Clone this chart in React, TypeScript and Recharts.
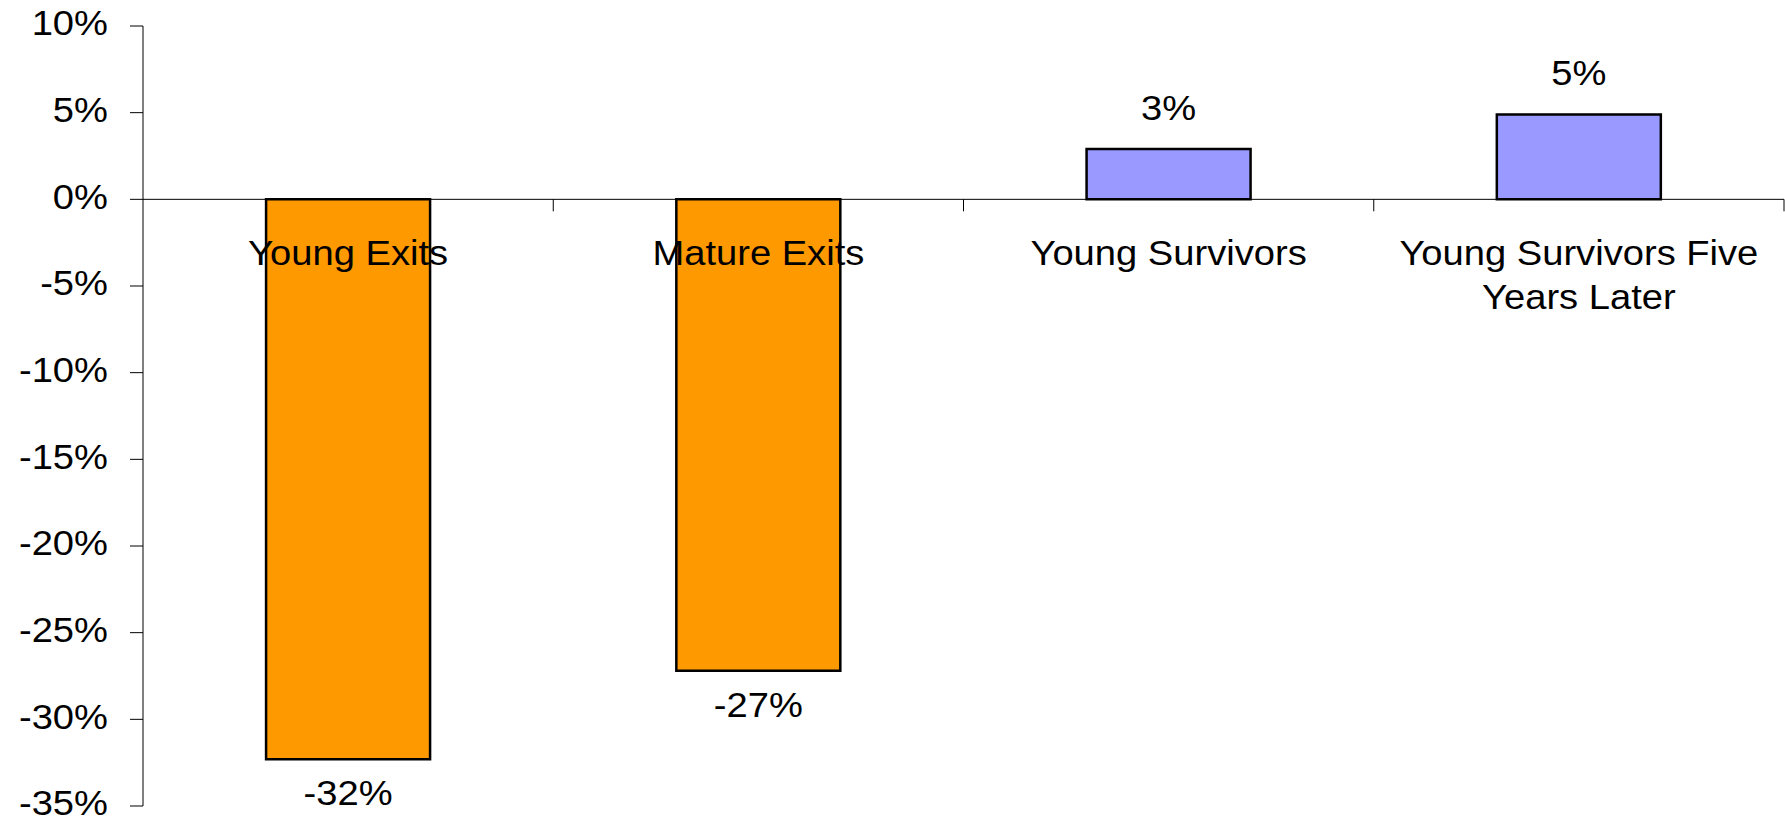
import React from 'react';
import { BarChart, Bar, XAxis, YAxis, ReferenceLine, LabelList, Cell } from 'recharts';

const categories = ['Young Exits', 'Mature Exits', 'Young Survivors', 'Young Survivors Five Years Later'];
const changes = [-32.3, -27.2, 2.9, 4.9];
const barColors = ['#FF9900', '#FF9900', '#9999FF', '#9999FF'];
const yTicks = [10, 5, 0, -5, -10, -15, -20, -25, -30, -35];

const data = categories.map((name, i) => ({ name, value: changes[i] }));

const FONT = '"Liberation Sans", Arial, sans-serif';
const FS = 35;
const SX = 1.09; // original text is a little stretched sideways

// split long category names in two lines like the original
const wrap = (s: string, max = 20): string[] => {
  const lines: string[] = [];
  let cur = '';
  s.split(' ').forEach((w) => {
    const next = cur ? cur + ' ' + w : w;
    if (next.length > max && cur) {
      lines.push(cur);
      cur = w;
    } else cur = next;
  });
  if (cur) lines.push(cur);
  return lines;
};

const Txt = ({ x, y, anchor = 'middle', children }: any) => (
  <text
    x={x}
    y={y}
    textAnchor={anchor}
    fontSize={FS}
    fontFamily={FONT}
    fill="#000"
    transform={`translate(${x} 0) scale(${SX} 1) translate(${-x} 0)`}
  >
    {children}
  </text>
);

const YTick = (props: any) => {
  const { x, y, payload } = props;
  return <Txt x={x} y={y + 9.5} anchor="end">{`${payload.value}%`}</Txt>;
};

const ZeroAxis = (props: any) => {
  const vb = props.viewBox || {};
  const { x = 0, y = 0, width = 0 } = vb;
  const band = width / categories.length;
  return (
    <g>
      {categories.map((c, i) => (
        <line key={'t' + i} x1={x + band * (i + 1)} x2={x + band * (i + 1)} y1={y} y2={y + 12} stroke="#000" />
      ))}
      {categories.map((c, i) => {
        const cx = x + band * (i + 0.5);
        return wrap(c).map((ln, j) => (
          <Txt key={'l' + i + '-' + j} x={cx} y={y + 66 + j * 44}>{ln}</Txt>
        ));
      })}
    </g>
  );
};

const ValueLabel = (props: any) => {
  const { x, y, width, height, value } = props;
  const neg = value < 0;
  const top = Math.min(y, y + height);
  const bottom = Math.max(y, y + height);
  return (
    <Txt x={x + width / 2} y={neg ? bottom + 46 : top - 29}>
      {`${Math.round(value)}%`}
    </Txt>
  );
};

export default function App() {
  return (
    <div style={{ width: 1785, height: 817 }}>
      <style>{`body{margin:0;overflow:hidden;background:#fff}`}</style>
      <BarChart
        width={1785}
        height={817}
        data={data}
        margin={{ top: 26, right: 1, bottom: 11, left: 0 }}
        barCategoryGap="30%"
      >
        <XAxis dataKey="name" hide />
        <YAxis
          width={143}
          domain={[-35, 10]}
          ticks={yTicks}
          interval={0}
          tick={<YTick />}
          tickSize={13}
          tickMargin={22}
          axisLine={{ stroke: '#000' }}
          tickLine={{ stroke: '#000' }}
        />
        <Bar dataKey="value" stroke="#000" strokeWidth={2.5} isAnimationActive={false}>
          {data.map((d, i) => (
            <Cell key={i} fill={barColors[i]} />
          ))}
          <LabelList dataKey="value" content={<ValueLabel />} />
        </Bar>
        <ReferenceLine y={0} stroke="#000" strokeWidth={1} label={<ZeroAxis />} />
      </BarChart>
    </div>
  );
}
